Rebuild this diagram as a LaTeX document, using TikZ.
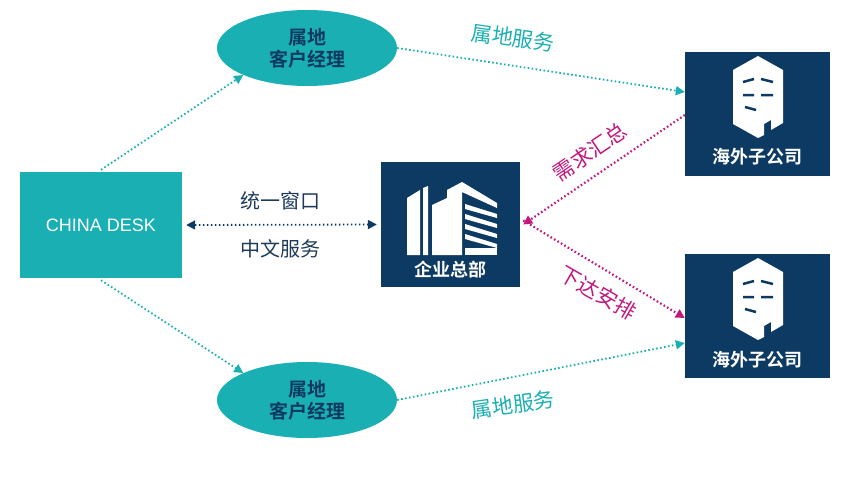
\documentclass[tikz,border=0pt]{standalone}
\usepackage{fontspec}
\setmainfont{Liberation Sans}
\newfontfamily\cjk{Noto Sans CJK SC}
\newfontfamily\cjkb{Noto Sans CJK SC Bold}
\usetikzlibrary{arrows.meta,shapes.geometric}
\definecolor{teal1}{HTML}{1AAFB2}
\definecolor{navy}{HTML}{0D3A62}
\definecolor{mag}{HTML}{C2187E}
\definecolor{txt}{HTML}{1E3A5A}
\begin{document}
\begin{tikzpicture}[x=1pt,y=-1pt,
  dots/.style={dash pattern=on 1.6pt off 2.4pt},
  tarrow/.style={draw=teal1,line width=1.8pt,dots,-{Triangle[length=9pt,width=9pt]}},
  marrow/.style={draw=mag,line width=2.2pt,dots,-{Triangle[length=9pt,width=9pt]}},
  ell/.style={ellipse,fill=teal1,minimum width=180pt,minimum height=76pt,text=navy,font=\cjkb\fontsize{19}{22}\selectfont,align=center},
  dbox/.style={fill=navy,draw=none,inner sep=0pt}]
\useasboundingbox (0,0) rectangle (856,490);
\node[fill=teal1,minimum width=162pt,minimum height=106pt,inner sep=0pt,text=white,font=\fontsize{18}{20}\selectfont] (cd) at (101,225) {CHINA DESK};
\node[ell] (e1) at (307,48) {属地\\客户经理};
\node[ell] (e2) at (307,400) {属地\\客户经理};
\node[dbox,minimum width=139pt,minimum height=125pt] (hq) at (450.5,224.5) {};
\node[dbox,minimum width=145pt,minimum height=124pt] (s1) at (757.5,114) {};
\node[dbox,minimum width=145pt,minimum height=124pt] (s2) at (757.5,316) {};
% HQ icon
\fill[white] (407,198) -- (420,190) -- (420,255) -- (407,255) -- cycle;
\fill[white] (423,188) -- (428,186) -- (428,255) -- (423,255) -- cycle;
\fill[white] (432,205) -- (447,198) -- (447,255) -- (432,255) -- cycle;
\fill[white] (447,190) -- (462,182) -- (497,203) -- (497,208) -- (462,192) -- (462,255) -- (447,255) -- cycle;
\foreach \yy in {212,222,232,242}{\fill[white] (465,\yy-8) -- (497,\yy+2) -- (497,\yy+6) -- (465,\yy-3) -- cycle;}
\fill[white] (465,248) rectangle (497,255);
\node[text=white,font=\cjkb\fontsize{18}{20}\selectfont] (hqt) at (450.5,270) {企业总部};
% subsidiary icons
\foreach \n/\oy in {s1/0,s2/202}{
  \begin{scope}[yshift=-\oy pt]
  \fill[white] (733,70) -- (758,56) -- (783,70) -- (783,123) -- (771,130) -- (771,120) -- (764,124) -- (764,135) -- (758,138) -- (733,124) -- cycle;
  \draw[navy,line width=2.5pt] (743,82) -- (754,79) (761,79) -- (773,82) (743,95) -- (754,95) (761,95) -- (773,95) (745,107) -- (756,110);
  \end{scope}}
\node[text=white,font=\cjkb\fontsize{18}{20}\selectfont] (s1t) at (757.5,157) {海外子公司};
\node[text=white,font=\cjkb\fontsize{18}{20}\selectfont] (s2t) at (757.5,360) {海外子公司};
% connectors
\draw[tarrow] (cd.north) ++(0,-2) coordinate (c1) (c1) -- (e1.south west);
\draw[tarrow] (cd.south) ++(0,2) coordinate (c2) (c2) -- (e2.north west);
\draw[tarrow] (e1.east) -- (s1.west |- 0,92);
\draw[tarrow] (e2.east) -- (s2.west |- 0,343);
\draw[draw=navy,line width=1.8pt,dots,{Triangle[length=9pt,width=9pt]}-{Triangle[length=9pt,width=9pt]}] ([xshift=4pt]cd.east) -- ([xshift=-4pt]hq.west);
\draw[marrow] (s1.west |- 0,115) -- ([xshift=3pt]hq.east);
\draw[marrow] ([xshift=3pt,yshift=4pt]hq.east) -- (s2.west |- 0,318);
% labels
\node[text=teal1,font=\cjk\fontsize{21}{24}\selectfont,rotate=-8] (l1) at (513,38) {属地服务};
\node[text=teal1,font=\cjk\fontsize{21}{24}\selectfont,rotate=8] (l2) at (513,405) {属地服务};
\node[text=txt,font=\cjk\fontsize{20}{24}\selectfont] (l3) at (280,201) {统一窗口};
\node[text=txt,font=\cjk\fontsize{20}{24}\selectfont] (l4) at (280,249) {中文服务};
\node[text=mag,font=\cjk\fontsize{21}{24}\selectfont,rotate=34,inner sep=0pt] (l5) at (590,152) {需求汇总};
\node[text=mag,font=\cjk\fontsize{21}{24}\selectfont,rotate=-30,inner sep=0pt] (l6) at (598,293) {下达安排};
\end{tikzpicture}
\end{document}
